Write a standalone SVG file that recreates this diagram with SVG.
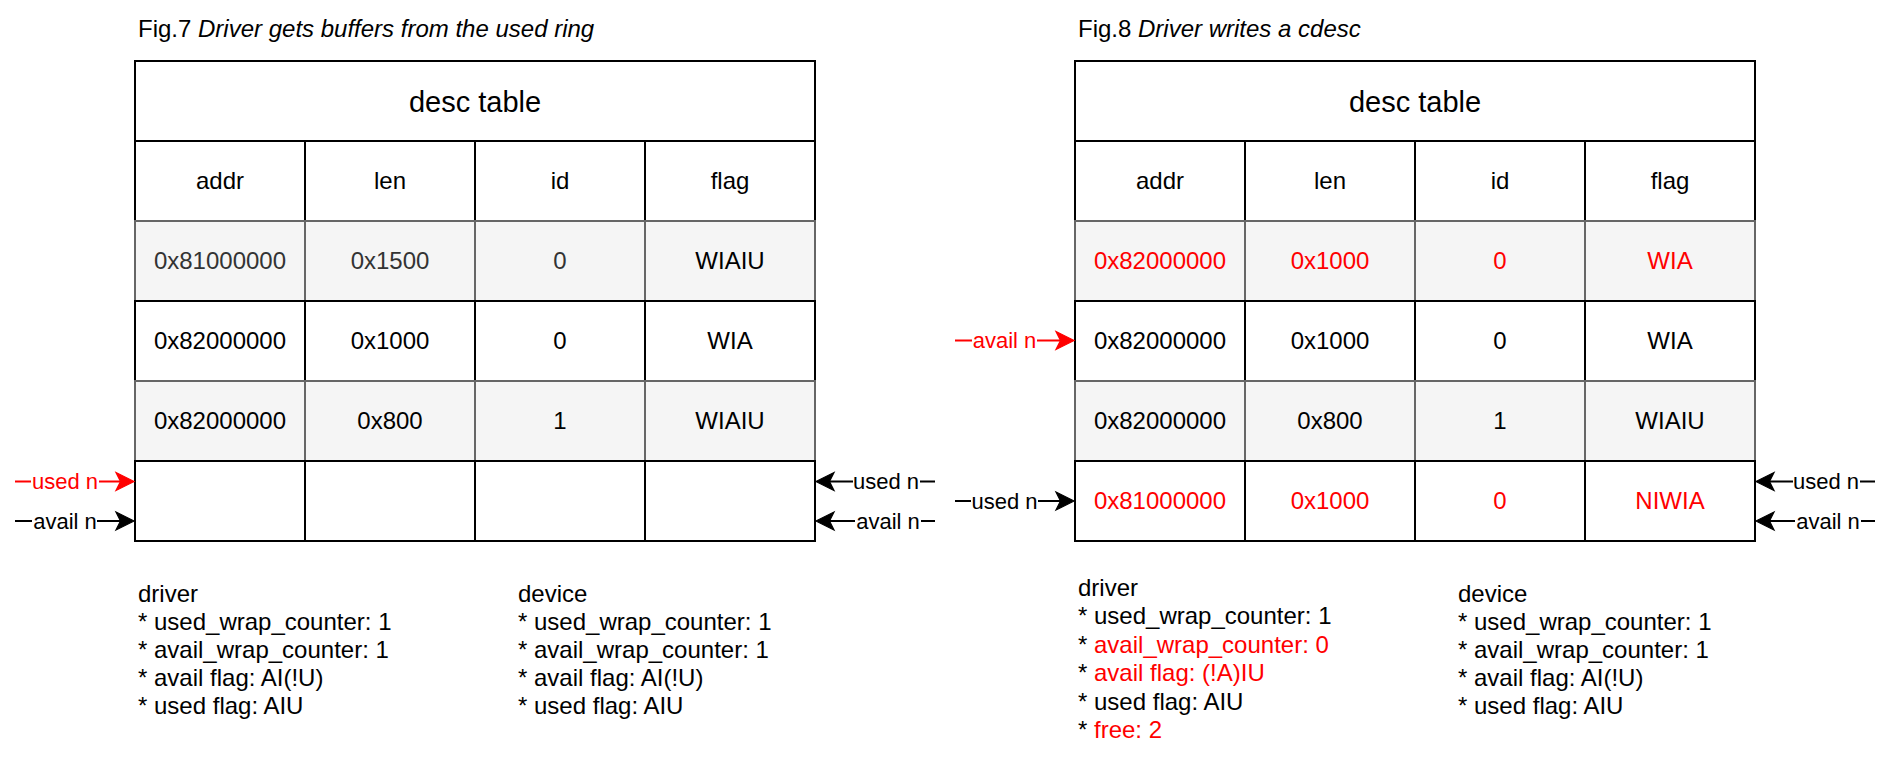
<svg xmlns="http://www.w3.org/2000/svg" width="1892" height="760" viewBox="0 0 1892 760">
<defs>
<style>
text{font-family:"Liberation Sans",Arial,Helvetica,sans-serif;fill:#000}
.t{font-size:24px}
.h{font-size:29px;text-anchor:middle}
.c{font-size:24px;text-anchor:middle}
.lbl{font-size:22px;text-anchor:middle}
.red{fill:#FF0000}
.dim{fill:#333333}
.w{fill:#FFFFFF;stroke:#000000;stroke-width:2}
.g{fill:#F5F5F5;stroke:#666666;stroke-width:2}
.ln{fill:none;stroke-width:2}
.lb{stroke:#000000}
.lr{stroke:#FF0000}
.bg{fill:#FFFFFF;stroke:none}
</style>
<marker id="ab" markerUnits="userSpaceOnUse" markerWidth="22" markerHeight="22" viewBox="-2 -2 22 22" refX="14" refY="9" orient="auto"><path d="M0,0 L18,9 L0,18 L4.5,9 Z" fill="#000000" stroke="#000000" stroke-width="1.2" stroke-linejoin="miter"/></marker>
<marker id="ar" markerUnits="userSpaceOnUse" markerWidth="22" markerHeight="22" viewBox="-2 -2 22 22" refX="14" refY="9" orient="auto"><path d="M0,0 L18,9 L0,18 L4.5,9 Z" fill="#FF0000" stroke="#FF0000" stroke-width="1.2" stroke-linejoin="miter"/></marker>
</defs>
<rect width="1892" height="760" fill="#FFFFFF"/>

<!-- ===================== Fig.7 ===================== -->
<g id="fig7-title"><text class="t" x="138" y="37">Fig.7 <tspan font-style="italic">Driver gets buffers from the used ring</tspan></text></g>

<g id="fig7-header">
<rect class="w" x="135" y="61" width="680" height="80"/>
<text class="h" x="475" y="111.5">desc table</text>
</g>
<g id="fig7-colheader">
<rect class="w" x="135" y="141" width="170" height="80"/><rect class="w" x="305" y="141" width="170" height="80"/><rect class="w" x="475" y="141" width="170" height="80"/><rect class="w" x="645" y="141" width="170" height="80"/>
<text class="c" x="220" y="188.5">addr</text><text class="c" x="390" y="188.5">len</text><text class="c" x="560" y="188.5">id</text><text class="c" x="730" y="188.5">flag</text>
</g>
<g id="fig7-row1">
<rect class="g" x="135" y="221" width="170" height="80"/><rect class="g" x="305" y="221" width="170" height="80"/><rect class="g" x="475" y="221" width="170" height="80"/><rect class="g" x="645" y="221" width="170" height="80"/>
<text class="c dim" x="220" y="268.5">0x81000000</text><text class="c dim" x="390" y="268.5">0x1500</text><text class="c dim" x="560" y="268.5">0</text><text class="c" x="730" y="268.5">WIAIU</text>
</g>
<g id="fig7-row2">
<rect class="w" x="135" y="301" width="170" height="80"/><rect class="w" x="305" y="301" width="170" height="80"/><rect class="w" x="475" y="301" width="170" height="80"/><rect class="w" x="645" y="301" width="170" height="80"/>
<text class="c" x="220" y="348.5">0x82000000</text><text class="c" x="390" y="348.5">0x1000</text><text class="c" x="560" y="348.5">0</text><text class="c" x="730" y="348.5">WIA</text>
</g>
<g id="fig7-row3">
<rect class="g" x="135" y="381" width="170" height="80"/><rect class="g" x="305" y="381" width="170" height="80"/><rect class="g" x="475" y="381" width="170" height="80"/><rect class="g" x="645" y="381" width="170" height="80"/>
<text class="c" x="220" y="428.5">0x82000000</text><text class="c" x="390" y="428.5">0x800</text><text class="c" x="560" y="428.5">1</text><text class="c" x="730" y="428.5">WIAIU</text>
</g>
<g id="fig7-row4">
<rect class="w" x="135" y="461" width="170" height="80"/><rect class="w" x="305" y="461" width="170" height="80"/><rect class="w" x="475" y="461" width="170" height="80"/><rect class="w" x="645" y="461" width="170" height="80"/>
</g>

<g id="fig7-driver">
<text class="t" x="138" y="602">driver</text>
<text class="t" x="138" y="630">* used_wrap_counter: 1</text>
<text class="t" x="138" y="658">* avail_wrap_counter: 1</text>
<text class="t" x="138" y="686">* avail flag: AI(!U)</text>
<text class="t" x="138" y="714">* used flag: AIU</text>
</g>
<g id="fig7-device">
<text class="t" x="518" y="602">device</text>
<text class="t" x="518" y="630">* used_wrap_counter: 1</text>
<text class="t" x="518" y="658">* avail_wrap_counter: 1</text>
<text class="t" x="518" y="686">* avail flag: AI(!U)</text>
<text class="t" x="518" y="714">* used flag: AIU</text>
</g>

<!-- ===================== Fig.8 ===================== -->
<g id="fig8-title"><text class="t" x="1078" y="37">Fig.8 <tspan font-style="italic">Driver writes a cdesc</tspan></text></g>

<g id="fig8-header">
<rect class="w" x="1075" y="61" width="680" height="80"/>
<text class="h" x="1415" y="111.5">desc table</text>
</g>
<g id="fig8-colheader">
<rect class="w" x="1075" y="141" width="170" height="80"/><rect class="w" x="1245" y="141" width="170" height="80"/><rect class="w" x="1415" y="141" width="170" height="80"/><rect class="w" x="1585" y="141" width="170" height="80"/>
<text class="c" x="1160" y="188.5">addr</text><text class="c" x="1330" y="188.5">len</text><text class="c" x="1500" y="188.5">id</text><text class="c" x="1670" y="188.5">flag</text>
</g>
<g id="fig8-row1">
<rect class="g" x="1075" y="221" width="170" height="80"/><rect class="g" x="1245" y="221" width="170" height="80"/><rect class="g" x="1415" y="221" width="170" height="80"/><rect class="g" x="1585" y="221" width="170" height="80"/>
<text class="c red" x="1160" y="268.5">0x82000000</text><text class="c red" x="1330" y="268.5">0x1000</text><text class="c red" x="1500" y="268.5">0</text><text class="c red" x="1670" y="268.5">WIA</text>
</g>
<g id="fig8-row2">
<rect class="w" x="1075" y="301" width="170" height="80"/><rect class="w" x="1245" y="301" width="170" height="80"/><rect class="w" x="1415" y="301" width="170" height="80"/><rect class="w" x="1585" y="301" width="170" height="80"/>
<text class="c" x="1160" y="348.5">0x82000000</text><text class="c" x="1330" y="348.5">0x1000</text><text class="c" x="1500" y="348.5">0</text><text class="c" x="1670" y="348.5">WIA</text>
</g>
<g id="fig8-row3">
<rect class="g" x="1075" y="381" width="170" height="80"/><rect class="g" x="1245" y="381" width="170" height="80"/><rect class="g" x="1415" y="381" width="170" height="80"/><rect class="g" x="1585" y="381" width="170" height="80"/>
<text class="c" x="1160" y="428.5">0x82000000</text><text class="c" x="1330" y="428.5">0x800</text><text class="c" x="1500" y="428.5">1</text><text class="c" x="1670" y="428.5">WIAIU</text>
</g>
<g id="fig8-row4">
<rect class="w" x="1075" y="461" width="170" height="80"/><rect class="w" x="1245" y="461" width="170" height="80"/><rect class="w" x="1415" y="461" width="170" height="80"/><rect class="w" x="1585" y="461" width="170" height="80"/>
<text class="c red" x="1160" y="508.5">0x81000000</text><text class="c red" x="1330" y="508.5">0x1000</text><text class="c red" x="1500" y="508.5">0</text><text class="c red" x="1670" y="508.5">NIWIA</text>
</g>

<g id="fig8-driver">
<text class="t" x="1078" y="596">driver</text>
<text class="t" x="1078" y="624.4">* used_wrap_counter: 1</text>
<text class="t" x="1078" y="652.8">* <tspan class="red">avail_wrap_counter: 0</tspan></text>
<text class="t" x="1078" y="681.2">* <tspan class="red">avail flag: (!A)IU</tspan></text>
<text class="t" x="1078" y="709.6">* used flag: AIU</text>
<text class="t" x="1078" y="738">* <tspan class="red">free: 2</tspan></text>
</g>
<g id="fig8-device">
<text class="t" x="1458" y="602">device</text>
<text class="t" x="1458" y="630">* used_wrap_counter: 1</text>
<text class="t" x="1458" y="658">* avail_wrap_counter: 1</text>
<text class="t" x="1458" y="686">* avail flag: AI(!U)</text>
<text class="t" x="1458" y="714">* used flag: AIU</text>
</g>

<!-- ===================== Connectors ===================== -->
<g id="connectors">
<!-- Fig.7 left -->
<line class="ln lr" x1="15" y1="481.5" x2="130" y2="481.5" marker-end="url(#ar)"/>
<rect class="bg" x="31" y="469" width="68" height="25"/>
<text class="lbl red" x="65" y="489">used n</text>
<line class="ln lb" x1="15" y1="521" x2="130" y2="521" marker-end="url(#ab)"/>
<rect class="bg" x="32" y="508" width="65" height="25"/>
<text class="lbl" x="65" y="529">avail n</text>
<!-- Fig.7 right -->
<line class="ln lb" x1="935" y1="481.5" x2="820" y2="481.5" marker-end="url(#ab)"/>
<rect class="bg" x="853" y="469" width="67" height="25"/>
<text class="lbl" x="886" y="489">used n</text>
<line class="ln lb" x1="935" y1="521" x2="820" y2="521" marker-end="url(#ab)"/>
<rect class="bg" x="855" y="508" width="66" height="25"/>
<text class="lbl" x="888" y="529">avail n</text>
<!-- Fig.8 left -->
<line class="ln lr" x1="955" y1="340.5" x2="1070" y2="340.5" marker-end="url(#ar)"/>
<rect class="bg" x="972" y="328" width="65" height="25"/>
<text class="lbl red" x="1004.5" y="348">avail n</text>
<line class="ln lb" x1="955" y1="501" x2="1070" y2="501" marker-end="url(#ab)"/>
<rect class="bg" x="971" y="488" width="67" height="25"/>
<text class="lbl" x="1004.5" y="508.5">used n</text>
<!-- Fig.8 right -->
<line class="ln lb" x1="1875" y1="481.5" x2="1760" y2="481.5" marker-end="url(#ab)"/>
<rect class="bg" x="1793" y="469" width="67" height="25"/>
<text class="lbl" x="1826" y="489">used n</text>
<line class="ln lb" x1="1875" y1="521" x2="1760" y2="521" marker-end="url(#ab)"/>
<rect class="bg" x="1795" y="508" width="66" height="25"/>
<text class="lbl" x="1828" y="529">avail n</text>
</g>
</svg>
